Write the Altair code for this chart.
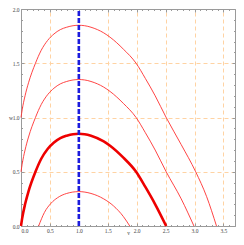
import altair as alt
import pandas as pd

# ---- data ----
v_top = [0, 0.02, 0.07, 0.13, 0.25, 0.35, 0.46, 0.57, 0.68, 0.79, 0.9, 1.0, 1.1, 1.21, 1.43, 1.54, 1.77, 1.99, 2.15, 2.32, 2.51, 2.77, 3.02, 3.21, 3.38]
w_top = [1.0, 1.07, 1.20, 1.32, 1.5, 1.62, 1.71, 1.77, 1.81, 1.832, 1.846, 1.85, 1.846, 1.832, 1.78, 1.74, 1.63, 1.5, 1.36, 1.2, 1.0, 0.75, 0.5, 0.27, 0.0]

v_mid = [0, 0.02, 0.07, 0.13, 0.25, 0.35, 0.46, 0.57, 0.68, 0.79, 0.9, 1.0, 1.1, 1.21, 1.43, 1.54, 1.77, 1.99, 2.15, 2.32, 2.51, 2.77, 2.99]
w_mid = [0.5, 0.57, 0.70, 0.82, 1.0, 1.12, 1.21, 1.27, 1.31, 1.332, 1.346, 1.35, 1.346, 1.332, 1.28, 1.24, 1.13, 1.0, 0.86, 0.7, 0.5, 0.25, 0.0]

v_low = [0.305, 0.405, 0.52, 0.63, 0.79, 1.0, 1.21, 1.43, 1.6, 1.77, 1.88]
w_low = [0.0, 0.125, 0.21, 0.26, 0.30, 0.317, 0.30, 0.25, 0.185, 0.087, 0.0]

v_thick = [0, 0.02, 0.07, 0.13, 0.25, 0.35, 0.46, 0.57, 0.68, 0.79, 0.9, 1.0, 1.1, 1.21, 1.43, 1.54, 1.77, 1.99, 2.15, 2.32, 2.51]
w_thick = [0.0, 0.07, 0.20, 0.32, 0.5, 0.62, 0.71, 0.77, 0.81, 0.832, 0.846, 0.85, 0.846, 0.832, 0.78, 0.74, 0.63, 0.5, 0.36, 0.2, 0.0]

v_line = [1.0]
w_line_from = [0.0]
w_line_to = [2.0]

x_major = [0.0, 0.5, 1.0, 1.5, 2.0, 2.5, 3.0, 3.5]
x_grid = [0.5, 1.0, 1.5, 2.0, 2.5, 3.0, 3.5]
x_minor = [round(i * 0.1, 1) for i in range(0, 38)]
y_major = [0.0, 0.5, 1.0, 1.5, 2.0]
y_grid = [0.5, 1.0, 1.5]
y_minor = [round(i * 0.1, 1) for i in range(0, 21)]

thin = pd.concat([
    pd.DataFrame({"v": v_top, "w": w_top, "curve": "c1"}),
    pd.DataFrame({"v": v_mid, "w": w_mid, "curve": "c2"}),
    pd.DataFrame({"v": v_low, "w": w_low, "curve": "c3"}),
])
thick = pd.DataFrame({"v": v_thick, "w": w_thick})
vline = pd.DataFrame({"v": v_line, "w0": w_line_from, "w1": w_line_to})

W, H = 214, 217

xs = alt.Scale(domain=[0, 3.7], nice=False, zero=False)
ys = alt.Scale(domain=[0, 2], nice=False, zero=False)

TICK = "#9a9a9a"
GRID = "#ffd3a3"

ax_bottom = alt.Axis(orient="bottom", values=x_major, format=".1f", tickSize=3, offset=-3,
                     labelPadding=2, title="v", titleY=9, titleBaseline="middle")
ax_bottom_minor = alt.Axis(orient="bottom", values=x_minor, tickSize=1.5, offset=-1.5,
                           labels=False, title=None)
ax_top = alt.Axis(orient="top", values=x_grid, tickSize=3, offset=-3, labels=False, title=None,
                  grid=True, gridColor=GRID, gridDash=[4, 3], gridWidth=1)
ax_top_minor = alt.Axis(orient="top", values=x_minor, tickSize=1.5, offset=-1.5, labels=False, title=None)

ax_left = alt.Axis(orient="left", values=y_major, format=".1f", tickSize=3, offset=-3,
                   labelPadding=2, title="w", titleAngle=0, titleX=-13.5, titleY=H / 2,
                   titleBaseline="middle", titleAlign="center")
ax_left_minor = alt.Axis(orient="left", values=y_minor, tickSize=1.5, offset=-1.5, labels=False, title=None)
ax_right = alt.Axis(orient="right", values=y_grid, tickSize=3, offset=-3, labels=False, title=None,
                    grid=True, gridColor=GRID, gridDash=[4, 3], gridWidth=1)
ax_right_minor = alt.Axis(orient="right", values=y_minor, tickSize=1.5, offset=-1.5, labels=False, title=None)

helper = alt.Chart(thin).mark_line(opacity=0).encode(
    x=alt.X("v:Q", scale=xs, axis=ax_top_minor),
    y=alt.Y("w:Q", scale=ys, axis=ax_right_minor),
    detail="curve:N",
)

thin_layer = alt.Chart(thin).mark_line(color="#ff3030", strokeWidth=0.9, interpolate="monotone").encode(
    x=alt.X("v:Q", scale=xs, axis=ax_bottom),
    y=alt.Y("w:Q", scale=ys, axis=ax_left),
    detail="curve:N",
)

thick_layer = alt.Chart(thick).mark_line(color="#ee0000", strokeWidth=2.6, interpolate="monotone").encode(
    x=alt.X("v:Q", scale=xs, axis=ax_bottom_minor),
    y=alt.Y("w:Q", scale=ys, axis=ax_left_minor),
)

blue = alt.Chart(vline).mark_rule(color="#1c1cdd", strokeWidth=2.6, strokeDash=[5, 2]).encode(
    x=alt.X("v:Q", scale=xs, axis=ax_top),
    y=alt.Y("w0:Q", scale=ys, axis=ax_right),
    y2="w1:Q",
)

chart = alt.layer(helper, thin_layer, thick_layer, blue).resolve_axis(
    x="independent", y="independent"
).properties(
    width=W, height=H,
    autosize=alt.AutoSizeParams(type="none"),
    padding={"left": 13, "top": 1, "right": 1, "bottom": 9},
).configure_view(
    stroke=TICK, strokeWidth=1
).configure_axis(
    domain=False, tickColor=TICK, tickWidth=1, grid=False,
    labelFont="Liberation Serif", labelFontSize=5.5, labelColor="#444444",
    titleFont="Liberation Serif", titleFontSize=5.5, titleFontWeight="normal", titleColor="#444444",
)

chart.save("out.html", embed_options={"renderer": "svg", "actions": False})
